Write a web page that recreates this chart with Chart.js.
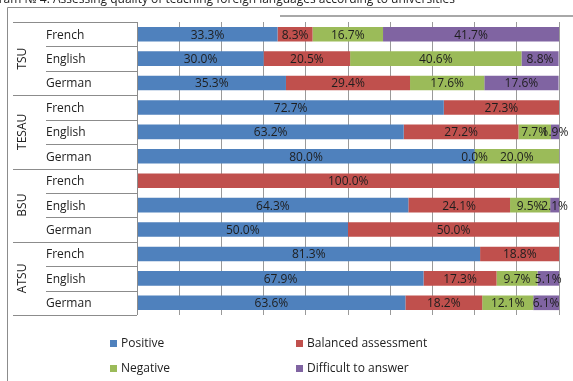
<!DOCTYPE html>
<html>
<head>
<meta charset="utf-8">
<script src="https://cdn.jsdelivr.net/npm/chart.js@4"></script>
<style>
html, body { margin: 0; padding: 0; background: #fff; overflow: hidden; }
#wrap { position: relative; width: 573px; height: 381px; overflow: hidden; }
#title { position: absolute; right: 118px; top: -9px; font: 12px "Open Sans"; color: #222; white-space: nowrap; line-height: 16px; }
canvas { position: absolute; left: 0; top: 0; }
</style>
</head>
<body>
<div id="wrap">
  <canvas id="chart" width="573" height="381"></canvas>
  <div id="title">Diagram № 4. Assessing quality of teaching foreign languages according to universities</div>
</div>
<script>
// Data
const groups = ['TSU', 'TESAU', 'BSU', 'ATSU'];
const languages = ['French', 'English', 'German'];
const seriesNames = ['Positive', 'Balanced assessment', 'Negative', 'Difficult to answer'];
const positive  = [33.3, 30.0, 35.3, 72.7, 63.2, 80.0, null, 64.3, 50.0, 81.3, 67.9, 63.6];
const balanced  = [8.3, 20.5, 29.4, 27.3, 27.2, 0.0, 100.0, 24.1, 50.0, 18.8, 17.3, 18.2];
const negative  = [16.7, 40.6, 17.6, null, 7.7, 20.0, null, 9.5, null, null, 9.7, 12.1];
const difficult = [41.7, 8.8, 17.6, null, 1.9, null, null, 2.1, null, null, 5.1, 6.1];
const colors = ['#4F81BD', '#C0504D', '#9BBB59', '#8064A2'];

const rowLabels = [];
const rowGroups = [];
groups.forEach(g => languages.forEach(l => { rowLabels.push(l); rowGroups.push(g); }));

const FONT = '12px "Open Sans"';
const LINE = '#8c8c8c';

// value labels centred in each segment
const barLabels = {
  id: 'barLabels',
  afterDatasetsDraw(chart) {
    const ctx = chart.ctx;
    ctx.save();
    ctx.font = FONT;
    ctx.fillStyle = '#1e1e1e';
    ctx.textAlign = 'center';
    ctx.textBaseline = 'middle';
    chart.data.datasets.forEach((ds, i) => {
      chart.getDatasetMeta(i).data.forEach((bar, j) => {
        const v = ds.data[j];
        if (v === null) return;
        ctx.fillText(v.toFixed(1) + '%', (bar.x + bar.base) / 2, bar.y + 1);
      });
    });
    ctx.restore();
  }
};

// two level category axis on the left, outer frame, legend
const frame = {
  id: 'frame',
  afterDraw(chart) {
    const ctx = chart.ctx;
    const area = chart.chartArea;
    const y = chart.scales.y;
    const n = rowLabels.length;
    const px = i => y.getPixelForValue(i);
    ctx.save();
    ctx.strokeStyle = LINE;
    ctx.lineWidth = 1;

    // outer border
    ctx.beginPath();
    ctx.moveTo(7.5, 381);
    ctx.lineTo(7.5, 7.5);
    ctx.lineTo(440, 7.5);
    ctx.stroke();
    ctx.strokeStyle = '#a8a8a8';
    ctx.lineWidth = 2;
    ctx.beginPath();
    ctx.moveTo(280, 16);
    ctx.lineTo(573, 16);
    ctx.stroke();
    ctx.strokeStyle = LINE;
    ctx.lineWidth = 1;

    // separators
    for (let i = 0; i <= n; i++) {
      let yy;
      if (i === 0) yy = area.top;
      else if (i === n) yy = area.bottom;
      else yy = (px(i - 1) + px(i)) / 2;
      yy = Math.round(yy) + 0.5;
      const x0 = (i % languages.length === 0) ? 13 : 46;
      ctx.beginPath();
      ctx.moveTo(x0, yy);
      ctx.lineTo(area.left, yy);
      ctx.stroke();
    }
    ctx.beginPath();
    ctx.moveTo(Math.round(area.left) + 0.5, area.top);
    ctx.lineTo(Math.round(area.left) + 0.5, area.bottom);
    ctx.stroke();

    ctx.font = FONT;
    ctx.fillStyle = '#222';
    ctx.textBaseline = 'middle';
    ctx.textAlign = 'left';
    rowLabels.forEach((l, i) => ctx.fillText(l, 46, px(i) + 1));

    groups.forEach((g, k) => {
      const first = k * languages.length;
      const last = first + languages.length - 1;
      const cy = (px(first) + px(last)) / 2;
      ctx.save();
      ctx.translate(23, cy);
      ctx.rotate(-Math.PI / 2);
      ctx.textAlign = 'center';
      ctx.fillText(g, 0, 0);
      ctx.restore();
    });

    // legend, 2 x 2
    const cols = [110, 296];
    const rows = [343, 368];
    chart.data.datasets.forEach((ds, i) => {
      const lx = cols[i % 2];
      const ly = rows[Math.floor(i / 2)];
      ctx.fillStyle = ds.backgroundColor;
      ctx.fillRect(lx, ly - 3, 7, 7);
      ctx.fillStyle = '#222';
      ctx.textAlign = 'left';
      ctx.fillText(ds.label, lx + 11, ly + 1);
    });
    ctx.restore();
  }
};

const seriesValues = [positive, balanced, negative, difficult];

new Chart(document.getElementById('chart'), {
  type: 'bar',
  data: {
    labels: rowLabels,
    datasets: seriesNames.map((name, i) => ({
      label: name,
      data: seriesValues[i],
      backgroundColor: colors[i],
      borderWidth: 0,
      barPercentage: 0.6,
      categoryPercentage: 1.0
    }))
  },
  options: {
    indexAxis: 'y',
    responsive: false,
    animation: false,
    devicePixelRatio: 1,
    layout: { padding: { left: 137, top: 22, right: 14, bottom: 66 } },
    scales: {
      x: {
        stacked: true,
        min: 0,
        max: 100,
        ticks: { display: false, stepSize: 10 },
        grid: { color: '#9a9a9a', drawTicks: false },
        border: { display: false },
        afterFit(scale) { scale.height = 0; }
      },
      y: {
        stacked: true,
        display: false
      }
    },
    plugins: {
      legend: { display: false },
      tooltip: { enabled: false }
    }
  },
  plugins: [barLabels, frame]
});
</script>
</body>
</html>
